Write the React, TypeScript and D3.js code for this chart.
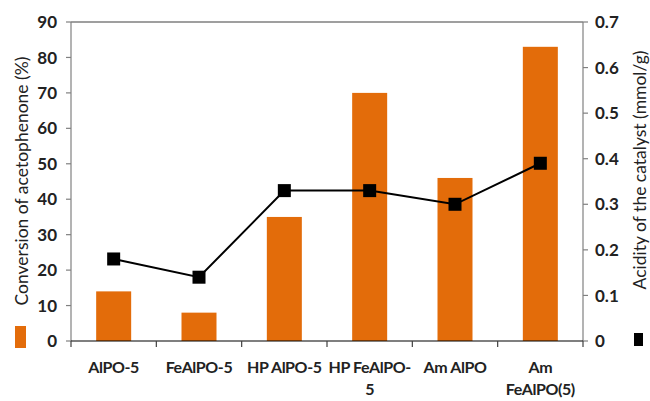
import React from "react";
import * as d3 from "d3";

const categories = ["AlPO-5", "FeAlPO-5", "HP AlPO-5", "HP FeAlPO-5", "Am AlPO", "Am FeAlPO(5)"];
const categoryLines = [["AlPO-5"], ["FeAlPO-5"], ["HP AlPO-5"], ["HP FeAlPO-", "5"], ["Am AlPO"], ["Am", "FeAlPO(5)"]];
const conversion = [14, 8, 35, 70, 46, 83];
const acidity = [0.18, 0.14, 0.33, 0.33, 0.3, 0.39];
const leftTicks = [0, 10, 20, 30, 40, 50, 60, 70, 80, 90];
const rightTicks = [0, 0.1, 0.2, 0.3, 0.4, 0.5, 0.6, 0.7];

const W = 650;
const H = 401;
const left = 71;
const right = 583;
const top = 22;
const bottom = 341;
const font = "Lato, 'Open Sans', sans-serif";
const orange = "#E36C0A";

export default function App() {
  const x = d3.scaleBand<string>().domain(categories).range([left, right]);
  const yL = d3.scaleLinear().domain([0, 90]).range([bottom, top]);
  const yR = d3.scaleLinear().domain([0, 0.7]).range([bottom, top]);
  const barW = 35;
  const cx = (i: number) => (x(categories[i]) as number) + x.bandwidth() / 2;
  const line = d3
    .line<number>()
    .x((_, i) => cx(i))
    .y((d) => yR(d));
  const boundaries = categories.map((c) => x(c) as number).concat([right]);

  return (
    <svg width={W} height={H} style={{ position: "absolute", left: 0, top: 0 }} fontFamily={font}>
      <rect width={W} height={H} fill="#fff" />
      {/* bars */}
      {conversion.map((v, i) => (
        <rect key={i} x={cx(i) - barW / 2} y={yL(v)} width={barW} height={bottom - yL(v)} fill={orange} />
      ))}
      {/* frame */}
      <line x1={left} x2={right} y1={top} y2={top} stroke="#404040" strokeWidth={1.2} />
      <line x1={left} x2={left} y1={top} y2={bottom} stroke="#808080" strokeWidth={1.2} />
      <line x1={right} x2={right} y1={top} y2={bottom} stroke="#808080" strokeWidth={1.2} />
      <line x1={left} x2={right} y1={bottom} y2={bottom} stroke="#000" strokeWidth={1.2} />
      {/* left axis */}
      {leftTicks.map((t) => (
        <g key={t}>
          <line x1={left - 5} x2={left} y1={yL(t)} y2={yL(t)} stroke="#808080" strokeWidth={1.2} />
          <text x={left - 14} y={yL(t)} dy="0.36em" textAnchor="end" fontSize={17} fontWeight={700} fill="#222">
            {t}
          </text>
        </g>
      ))}
      {/* right axis */}
      {rightTicks.map((t) => (
        <g key={t}>
          <line x1={right} x2={right + 5} y1={yR(t)} y2={yR(t)} stroke="#808080" strokeWidth={1.2} />
          <text x={right + 12} y={yR(t)} dy="0.36em" textAnchor="start" fontSize={17} fontWeight={700} fill="#222">
            {t === 0 ? "0" : t.toFixed(1)}
          </text>
        </g>
      ))}
      {/* category ticks */}
      {boundaries.map((b, i) => (
        <line key={i} x1={b} x2={b} y1={bottom} y2={bottom + 6} stroke="#404040" strokeWidth={1.2} />
      ))}
      {categoryLines.map((lines, i) => (
        <text key={i} x={cx(i)} y={373} textAnchor="middle" fontSize={16} fontWeight={700} fill="#222" letterSpacing={-0.4}>
          {lines.map((l, j) => (
            <tspan key={j} x={cx(i)} dy={j === 0 ? 0 : 22}>
              {l}
            </tspan>
          ))}
        </text>
      ))}
      {/* acidity line */}
      <path d={line(acidity) as string} fill="none" stroke="#000" strokeWidth={2} />
      {acidity.map((v, i) => (
        <rect key={i} x={cx(i) - 6.5} y={yR(v) - 6.5} width={13} height={13} fill="#000" />
      ))}
      {/* left title and legend key */}
      <rect x={15} y={326} width={11} height={22} fill={orange} />
      <text transform={`translate(28,181) rotate(-90)`} textAnchor="middle" fontSize={17.5} fill="#222">
        Conversion of acetophenone (%)
      </text>
      {/* right title and legend key */}
      <rect x={634} y={333} width={9} height={13} fill="#000" />
      <text transform={`translate(646,170) rotate(-90)`} textAnchor="middle" fontSize={17.5} fill="#222">
        Acidity of the catalyst (mmol/g)
      </text>
    </svg>
  );
}
